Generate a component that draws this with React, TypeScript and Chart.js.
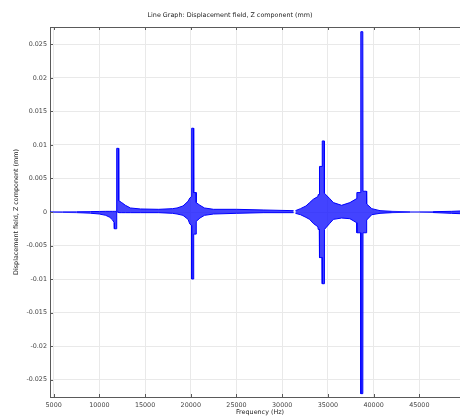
import React, { useEffect, useRef } from "react";
import { Chart, registerables } from "chart.js";

Chart.register(...registerables);

const TITLE = "Line Graph: Displacement field, Z component (mm)";
const X_TITLE = "Frequency (Hz)";
const Y_TITLE = "Displacement field, Z component (mm)";

const X_MIN = 4600;
const X_MAX = 49450;
const Y_MIN = -0.0276;
const Y_MAX = 0.0276;

const X_TICKS = [5000, 10000, 15000, 20000, 25000, 30000, 35000, 40000, 45000];
const Y_TICKS = [
  -0.025, -0.02, -0.015, -0.01, -0.005, 0, 0.005, 0.01, 0.015, 0.02, 0.025,
];

// Frequency samples (Hz) of the response envelope
const freq = [
  4600, 6000, 7500, 9000, 10000, 10700, 11150, 11450, 11620, 11640,
  11880, 11900, 12100, 12120, 12450, 12850, 13400, 14500, 16500, 18000,
  18500, 19150, 19700, 19900, 20080, 20100, 20300, 20320, 20580, 20600,
  21000, 21500, 22500, 25000, 28000, 31250, 31350, 31450, 32000, 32600,
  33000, 33400, 33900, 33940, 34060, 34080, 34360, 34380, 34600, 34620,
  35200, 35600, 36500, 37400, 38150, 38170, 38580, 38600, 38820, 38840,
  39220, 39240, 39800, 40700, 42000, 44000, 45000, 46500, 48500, 49450,
];

// Upper envelope of displacement (mm)
const upper = [
  0.00004, 0.00004, 0.00005, 0.00006, 0.00008, 0.0001, 0.0001, 0.0001, 0.0001, 0.0001,
  0.0001, 0.0095, 0.0095, 0.0017, 0.0014, 0.001, 0.0006, 0.00045, 0.0004, 0.0005,
  0.0006, 0.0009, 0.0016, 0.0021, 0.0023, 0.0125, 0.0125, 0.0029, 0.0029, 0.0014,
  0.001, 0.0006, 0.0004, 0.0004, 0.0003, 0.0002, null, 0.0002, 0.0005, 0.0009,
  0.0014, 0.0019, 0.0023, 0.0026, 0.0026, 0.0068, 0.0068, 0.0106, 0.0106, 0.0028,
  0.002, 0.0014, 0.001, 0.0014, 0.002, 0.0029, 0.0029, 0.0269, 0.0269, 0.0031,
  0.0031, 0.0012, 0.0005, 0.0002, 0.0001, 0.00003, 0.00002, 0.00005, 0.0001, 0.00015,
];

// Lower envelope of displacement (mm)
const lower = [
  -0.00004, -0.00006, -0.0001, -0.00018, -0.0003, -0.0005, -0.0008, -0.0012, -0.0016, -0.0025,
  -0.0025, 0, 0, -0.0001, -0.0001, -0.0001, -0.0001, -0.0001, -0.0001, -0.0002,
  -0.0003, -0.0005, -0.0011, -0.0018, -0.002, -0.01, -0.01, -0.0033, -0.0033, -0.0014,
  -0.0009, -0.0005, -0.0003, -0.0002, -0.0001, -0.0001, null, -0.0002, -0.0004, -0.0008,
  -0.0011, -0.0017, -0.0022, -0.0026, -0.0026, -0.0068, -0.0068, -0.0107, -0.0107, -0.0026,
  -0.0017, -0.0011, -0.0009, -0.001, -0.0016, -0.0031, -0.0031, -0.0271, -0.0271, -0.0031,
  -0.0031, -0.0012, -0.0004, -0.0002, -0.0001, -0.00003, -0.00002, -0.00008, -0.0002, -0.00025,
];

const FONT = "'DejaVu Sans', sans-serif";

const amp = (i: number) => {
  const u = upper[i];
  const l = lower[i];
  if (u == null || l == null) return 0;
  return u - l;
};

const segColor = (c: any) => {
  const a = Math.max(amp(c.p0DataIndex), amp(c.p1DataIndex)) * 6700;
  const alpha = Math.min(1, 0.3 + a * 0.35);
  return `rgba(0,0,255,${alpha.toFixed(3)})`;
};

const framePlugin = {
  id: "frameAndTitles",
  afterDatasetsDraw(chart: any) {
    const { ctx, chartArea: a, scales } = chart;
    ctx.save();
    ctx.strokeStyle = "#5a5a5a";
    ctx.lineWidth = 1;
    ctx.beginPath();
    ctx.moveTo(a.left, a.top + 0.5);
    ctx.lineTo(a.right, a.top + 0.5);
    scales.x.ticks.forEach((t: any) => {
      const px = Math.round(scales.x.getPixelForValue(t.value)) + 0.5;
      ctx.moveTo(px, a.top);
      ctx.lineTo(px, a.top + 3);
      ctx.moveTo(px, a.bottom);
      ctx.lineTo(px, a.bottom - 3);
    });
    scales.y.ticks.forEach((t: any) => {
      const py = Math.round(scales.y.getPixelForValue(t.value)) + 0.5;
      ctx.moveTo(a.left, py);
      ctx.lineTo(a.left + 3, py);
    });
    ctx.stroke();

    ctx.fillStyle = "#222";
    ctx.font = `6.4px ${FONT}`;
    ctx.textAlign = "center";
    ctx.textBaseline = "middle";
    ctx.fillText(TITLE, 230, 15);
    ctx.fillText(X_TITLE, (a.left + 470) / 2, 412);
    ctx.translate(16, (a.top + a.bottom) / 2);
    ctx.rotate(-Math.PI / 2);
    ctx.fillText(Y_TITLE, 0, 0);
    ctx.restore();
  },
};

export default function App() {
  const ref = useRef<HTMLCanvasElement | null>(null);

  useEffect(() => {
    if (!ref.current) return;
    const upperData = freq.map((f, i) => ({ x: f, y: upper[i] }));
    const lowerData = freq.map((f, i) => ({ x: f, y: lower[i] }));
    const chart = new Chart(ref.current, {
      type: "line",
      data: {
        datasets: [
          {
            label: "upper",
            data: upperData as any,
            borderColor: "#0000ff",
            borderWidth: 1,
            pointRadius: 0,
            tension: 0,
            fill: false,
            spanGaps: false,
            segment: { borderColor: segColor },
          },
          {
            label: "lower",
            data: lowerData as any,
            borderColor: "#0000ff",
            backgroundColor: "rgba(20,20,255,0.8)",
            borderWidth: 1,
            pointRadius: 0,
            tension: 0,
            fill: "-1",
            spanGaps: false,
            segment: { borderColor: segColor },
          },
        ],
      },
      options: {
        responsive: false,
        animation: false,
        events: [],
        layout: { padding: { top: 27, left: 0, right: 0, bottom: 0 } },
        plugins: {
          legend: { display: false },
          tooltip: { enabled: false },
          title: { display: false },
        },
        scales: {
          x: {
            type: "linear",
            min: X_MIN,
            max: X_MAX,
            afterBuildTicks: (s: any) => {
              s.ticks = X_TICKS.map((v) => ({ value: v }));
            },
            ticks: {
              autoSkip: false,
              maxRotation: 0,
              padding: 5,
              color: "#444",
              font: { size: 6.4, family: FONT },
              callback: (v: any) => String(v),
            },
            grid: { color: "#e9e9e9", drawTicks: false },
            border: { color: "#5a5a5a" },
            afterFit: (s: any) => {
              s.height = 19;
            },
          },
          y: {
            type: "linear",
            min: Y_MIN,
            max: Y_MAX,
            afterBuildTicks: (s: any) => {
              s.ticks = Y_TICKS.map((v) => ({ value: v }));
            },
            ticks: {
              autoSkip: false,
              padding: 3,
              color: "#444",
              font: { size: 6.4, family: FONT },
              callback: (v: any) => String(Number(Number(v).toFixed(4))),
            },
            grid: { color: "#e9e9e9", drawTicks: false },
            border: { color: "#5a5a5a" },
            afterFit: (s: any) => {
              s.width = 50;
            },
          },
        },
      },
      plugins: [framePlugin],
    });
    return () => chart.destroy();
  }, []);

  return (
    <div
      style={{
        position: "absolute",
        left: 0,
        top: 0,
        width: 460,
        height: 416,
        overflow: "hidden",
        background: "#fff",
      }}
    >
      <canvas ref={ref} width={460} height={416} style={{ display: "block" }} />
    </div>
  );
}
